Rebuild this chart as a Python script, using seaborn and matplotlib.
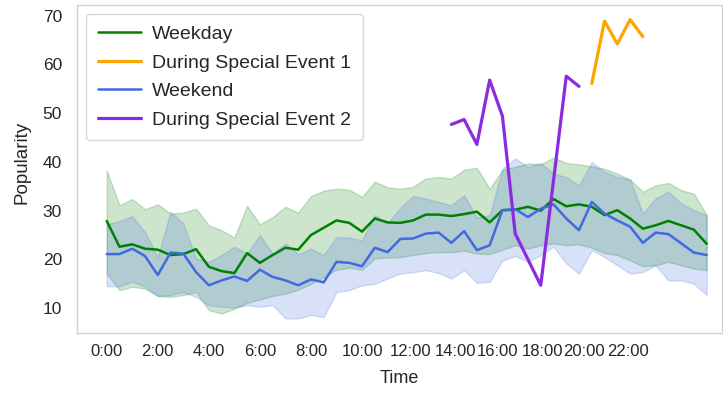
import numpy as np
import pandas as pd
import matplotlib
matplotlib.use("Agg")
import matplotlib.pyplot as plt
import seaborn as sns

# ---------------- data ----------------
slots = list(range(48))  # half-hour slots 0:00 .. 23:30
tick_labels = ["0:00", "2:00", "4:00", "6:00", "8:00", "10:00",
               "12:00", "14:00", "16:00", "18:00", "20:00", "22:00"]

weekday_mean = [27.9, 22.6, 23.1, 22.2, 22.0, 20.9, 21.1, 22.1, 18.5, 17.6,
                17.2, 21.3, 19.3, 20.9, 22.4, 22.0, 25.0, 26.5, 28.0, 27.5,
                25.7, 28.4, 27.6, 27.5, 28.0, 29.2, 29.2, 28.9, 29.3, 29.8,
                27.6, 30.1, 30.2, 30.8, 30.0, 32.4, 30.9, 31.3, 30.8, 29.1,
                30.1, 28.4, 26.3, 27.0, 27.9, 27.0, 26.1, 23.2]
weekday_low = [17.1, 13.7, 14.4, 14.0, 12.5, 12.3, 12.7, 13.3, 9.6, 8.9,
               9.9, 11.1, 11.8, 12.5, 13.0, 13.8, 15.0, 16.4, 17.9, 18.3,
               17.9, 20.2, 20.4, 20.5, 20.9, 21.3, 21.5, 21.5, 21.8, 21.2,
               21.1, 22.0, 22.9, 22.2, 22.9, 23.3, 22.9, 23.1, 22.4, 21.3,
               20.9, 19.8, 18.6, 18.8, 19.5, 18.8, 18.1, 17.8]
weekday_high = [38.2, 31.1, 32.4, 30.3, 31.3, 29.4, 29.6, 30.4, 27.0, 26.0,
                24.5, 31.0, 27.2, 28.7, 30.8, 29.6, 33.0, 34.1, 34.5, 34.3,
                32.8, 36.0, 34.8, 34.5, 34.9, 36.6, 36.9, 36.6, 38.4, 38.8,
                34.5, 38.4, 39.0, 39.7, 39.5, 40.9, 39.8, 39.5, 39.1, 38.6,
                37.6, 36.4, 33.9, 35.2, 35.7, 34.2, 33.5, 29.1]

weekend_mean = [21.1, 21.1, 22.2, 20.7, 16.8, 21.4, 21.2, 17.4, 14.7, 15.7,
                16.5, 15.6, 17.9, 16.4, 15.7, 14.7, 15.9, 15.3, 19.5, 19.3,
                18.6, 22.4, 21.5, 24.2, 24.3, 25.3, 25.5, 23.4, 25.8, 21.9,
                22.9, 30.1, 30.3, 28.7, 30.4, 31.3, 28.4, 26.0, 31.8, 29.4,
                28.0, 26.7, 23.4, 25.5, 25.2, 23.3, 21.4, 20.9]
weekend_low = [14.5, 14.5, 15.4, 14.4, 12.5, 12.7, 13.3, 12.3, 10.6, 10.3,
               10.1, 10.6, 10.3, 10.6, 7.9, 7.9, 8.6, 8.2, 13.3, 13.7,
               14.7, 15.0, 16.1, 17.1, 17.4, 17.8, 17.2, 16.1, 17.8, 15.2,
               15.4, 19.8, 20.7, 19.5, 20.9, 22.6, 19.2, 17.1, 21.9, 20.5,
               18.8, 17.1, 17.4, 18.8, 15.7, 15.7, 15.0, 12.7]
weekend_high = [27.2, 27.9, 28.9, 25.6, 20.5, 29.8, 27.4, 20.2, 19.5, 20.9,
                22.6, 21.2, 25.0, 21.2, 23.3, 21.1, 22.2, 20.9, 24.6, 24.5,
                23.9, 29.1, 27.4, 30.6, 33.0, 32.5, 31.8, 31.1, 33.2, 28.6,
                29.1, 38.6, 40.7, 39.0, 39.8, 37.6, 36.9, 35.2, 40.0, 38.0,
                36.9, 36.4, 29.4, 32.5, 33.9, 31.5, 30.1, 29.1]

event1_slots = [38, 39, 40, 41, 42]
event1_vals = [56.1, 68.9, 64.2, 69.2, 65.7]

event2_slots = [27, 28, 29, 30, 31, 32, 34, 36, 37]
event2_vals = [47.7, 48.7, 43.6, 56.8, 49.4, 25.3, 14.7, 57.6, 55.5]

# ---------------- layout / style ----------------
tick_positions = [0, 4, 8, 12, 16, 20, 23.8, 27.3, 30.6, 34.1, 37.4, 40.8]

sns.set_style("white", {"axes.edgecolor": "0.82", "text.color": "0.15",
                        "xtick.color": "0.15", "ytick.color": "0.15",
                        "axes.labelcolor": "0.15"})
plt.rcParams["font.family"] = ["Liberation Sans", "DejaVu Sans"]

fig = plt.figure(figsize=(7.23, 3.96), dpi=100)
ax = fig.add_axes([0.107, 0.159, 0.8916, 0.8284])

wd = pd.DataFrame({"slot": slots, "mean": weekday_mean,
                   "low": weekday_low, "high": weekday_high})
we = pd.DataFrame({"slot": slots, "mean": weekend_mean,
                   "low": weekend_low, "high": weekend_high})
e1 = pd.DataFrame({"slot": event1_slots, "val": event1_vals})
e2 = pd.DataFrame({"slot": event2_slots, "val": event2_vals})

ax.fill_between(wd["slot"], wd["low"], wd["high"], color="green", alpha=0.2)
ax.fill_between(we["slot"], we["low"], we["high"], color="royalblue", alpha=0.2)

sns.lineplot(data=wd, x="slot", y="mean", color="green", lw=1.8,
             label="Weekday", ax=ax)
sns.lineplot(data=e1, x="slot", y="val", color="orange", lw=2.3,
             label="During Special Event 1", ax=ax)
sns.lineplot(data=we, x="slot", y="mean", color="royalblue", lw=1.8,
             label="Weekend", ax=ax)
sns.lineplot(data=e2, x="slot", y="val", color="blueviolet", lw=2.3,
             label="During Special Event 2", ax=ax)

ax.set_xlim(-2.3, 48.2)
ax.set_ylim(4.9, 72.2)
ax.set_yticks([10, 20, 30, 40, 50, 60, 70])
ax.set_xticks(tick_positions)
ax.set_xticklabels(tick_labels)
ax.tick_params(axis="x", labelsize=12, pad=8, length=0)
ax.tick_params(axis="y", labelsize=12.5, pad=11, length=0)

ax.set_xlabel("Time", fontsize=13)
ax.set_ylabel("Popularity", fontsize=13.5)
ax.xaxis.set_label_coords(0.5, -0.112)
ax.yaxis.set_label_coords(-0.073, 0.52)

for s in ax.spines.values():
    s.set_color("0.82")
    s.set_linewidth(1.0)

ax.legend(loc="upper left", fontsize=14, labelspacing=0.56,
          handlelength=2.2, handletextpad=0.6, borderpad=0.6,
          borderaxespad=0.45, frameon=True, edgecolor="0.8")

fig.savefig("out.png", dpi=100)
